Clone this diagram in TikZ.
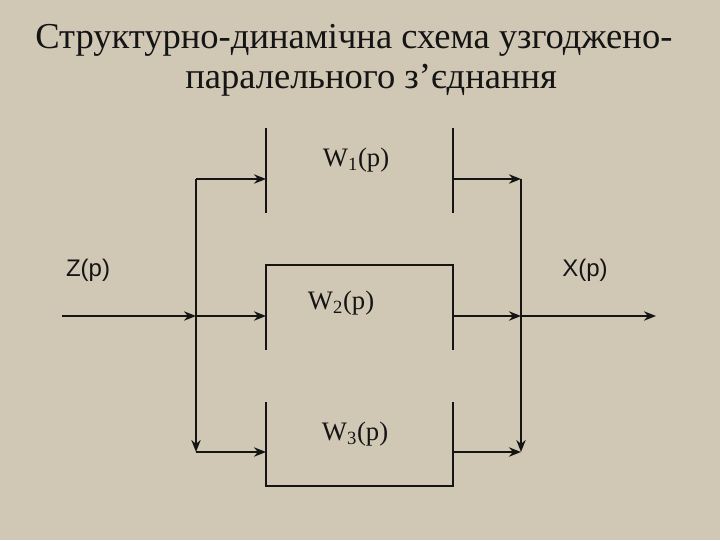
\documentclass[tikz,border=0pt]{standalone}
\usepackage{fontspec}
\usetikzlibrary{arrows.meta}
\setmainfont{Liberation Serif}
\newfontfamily\lsans{Liberation Sans}
\definecolor{bg}{RGB}{208,199,180}
\definecolor{ink}{RGB}{20,20,20}
\begin{document}
\begin{tikzpicture}[x=0.75pt,y=-0.75pt,
  thin/.style={draw=ink,line width=0.8pt},
  flow/.style={draw=ink,line width=2.2pt,-{Stealth[length=9pt,width=7pt]}},
  wire/.style={draw=ink,line width=2.2pt},
  ttl/.style={text=ink,font=\fontsize{27.4}{30}\selectfont,inner sep=0pt,anchor=west},
  lbl/.style={text=ink,font=\fontsize{20}{22}\selectfont,inner sep=0pt}]
\fill[bg] (0,0) rectangle (720,540);
\useasboundingbox (0,0) rectangle (720,540);
\node[ttl] (title1) at (35,40) {Структурно-динамічна схема узгоджено-};
\node[ttl] (title2) at (185,80) {паралельного з’єднання};
% boxes
\draw[thin] (266,128) -- (266,213);
\draw[thin] (453,128) -- (453,213);
\draw[thin] (266,350) -- (266,265) -- (453,265) -- (453,350);
\draw[thin] (266,402) -- (266,486) -- (453,486) -- (453,402);
\node[lbl] (w1) at (356,160) {W\textsubscript{1}(p)};
\node[lbl] (w2) at (341,303) {W\textsubscript{2}(p)};
\node[lbl] (w3) at (355,434) {W\textsubscript{3}(p)};
\node[text=ink,font=\lsans\fontsize{18}{20}\selectfont,inner sep=0pt] (z) at (88,270) {Z(p)};
\node[text=ink,font=\lsans\fontsize{18}{20}\selectfont,inner sep=0pt] (xo) at (585,270) {X(p)};
% coordinates
\coordinate (in) at (62,316);
\coordinate (sp) at (196,316);
\coordinate (lt) at (196,179);
\coordinate (lb) at (196,452);
\coordinate (i1) at (266,179);
\coordinate (i2) at (266,316);
\coordinate (i3) at (266,452);
\coordinate (o1) at (453,179);
\coordinate (o2) at (453,316);
\coordinate (o3) at (453,452);
\coordinate (rt) at (521,179);
\coordinate (rm) at (521,316);
\coordinate (rb) at (521,452);
\coordinate (out) at (656,316);
\draw[flow] (in) -- (sp);
\draw[wire] (lt) -- (sp);
\draw[flow] (sp) -- (lb);
\draw[flow] (lt) -- (i1);
\draw[flow] (sp) -- (i2);
\draw[flow] (lb) -- (i3);
\draw[flow] (o1) -- (rt);
\draw[flow] (o2) -- (rm);
\draw[flow] (o3) -- (rb);
\draw[flow] (rt) -- (rb);
\draw[flow] (rm) -- (out);
\end{tikzpicture}
\end{document}
